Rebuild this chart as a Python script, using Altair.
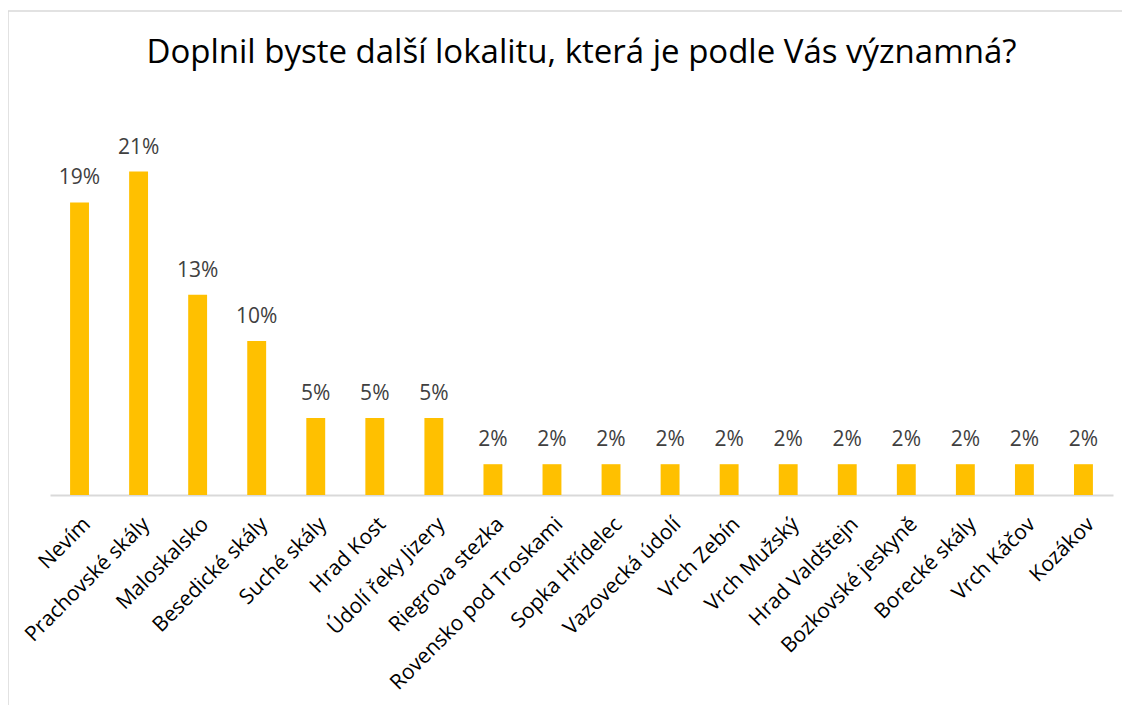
import altair as alt
import pandas as pd

categories = [
    "Nevím", "Prachovské skály", "Maloskalsko", "Besedické skály", "Suché skály",
    "Hrad Kost", "Údolí řeky Jizery", "Riegrova stezka", "Rovensko pod Troskami",
    "Sopka Hřídelec", "Vazovecká údolí", "Vrch Zebín", "Vrch Mužský",
    "Hrad Valdštejn", "Bozkovské jeskyně", "Borecké skály", "Vrch Káčov", "Kozákov",
]
values = [19, 21, 13, 10, 5, 5, 5, 2, 2, 2, 2, 2, 2, 2, 2, 2, 2, 2]
value_labels = [f"{v}%" for v in values]
title_text = "Doplnil byste další lokalitu, která je podle Vás významná?"

df = pd.DataFrame({"cat": categories, "v": values, "lab": value_labels})

FONT = "Open Sans"

x_enc = alt.X(
    "cat:N",
    sort=categories,
    scale=alt.Scale(paddingInner=0.68, paddingOuter=0.34),
    axis=alt.Axis(
        title=None, labelAngle=-45, labelAlign="right", labelBaseline="top",
        ticks=False, domainColor="#d9d9d9", domainWidth=2,
        labelFontSize=21, labelFont=FONT, labelColor="#000000",
        labelPadding=18, labelLimit=0,
    ),
)
y_enc = alt.Y("v:Q", scale=alt.Scale(domain=[0, 25]), axis=None)

base = alt.Chart(df)
bars = base.mark_bar(color="#FFC000").encode(x=x_enc, y=y_enc)
texts = base.mark_text(
    dy=-18, baseline="alphabetic", fontSize=21, font=FONT, color="#404040"
).encode(x=alt.X("cat:N", sort=categories), y=y_enc, text="lab:N")

border = alt.Chart(pd.DataFrame({"a": [0]})).mark_rect(
    fill=None, stroke="#d9d9d9", strokeWidth=1.5, clip=False
).encode(x=alt.value(-42), x2=alt.value(1200), y=alt.value(-99), y2=alt.value(640))

chart = alt.layer(border, bars, texts).properties(
    width=1063,
    height=385,
    padding={"left": 42, "top": 102, "right": 9, "bottom": 210},
    autosize="none",
    title=alt.TitleParams(
        title_text, fontSize=33, font=FONT, fontWeight="normal", color="#000000",
        anchor="middle", baseline="alphabetic", offset=-86,
    ),
).configure_view(stroke=None)

chart.save("out.html", embed_options={"renderer": "svg", "actions": False})
